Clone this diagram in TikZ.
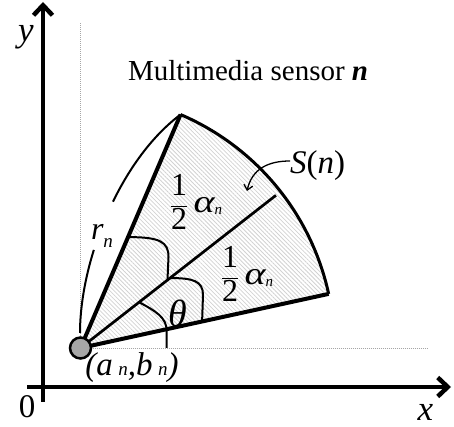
\documentclass[tikz,border=0pt]{standalone}
\usepackage{fontspec}
\setmainfont{Liberation Serif}
\usetikzlibrary{arrows.meta,patterns.meta,calc}
\newcommand{\fsz}[1]{\fontsize{#1}{#1}\selectfont}
\newcommand{\widealpha}{\scalebox{1.25}[1]{\itshape α}}
\begin{document}
\begin{tikzpicture}[x=1pt,y=1pt,
  axis/.style={line width=4.5pt,-{Straight Barb[length=10pt,width=19pt]}},
  sectoredge/.style={line width=4pt},
  midline/.style={line width=2.7pt},
  outerarc/.style={line width=3pt},
  anglearc/.style={line width=2pt},
  guide/.style={line width=0.9pt,gray!70,dash pattern=on 1pt off 1pt},
  lbl/.style={inner sep=0pt,outer sep=0pt},
  sensor/.style={circle,draw=black,fill=gray!70,line width=2.5pt,minimum size=21pt,inner sep=0pt}
]
\useasboundingbox (0,0) rectangle (454,427);

% key points
\coordinate (S) at (80.5,79);
\coordinate (T) at ($(S)+(66.8:254)$);
\coordinate (B) at ($(S)+(12.3:254)$);
\coordinate (M) at ($(S)+(38:248)$);
\coordinate (vtop) at (80.5,404);
\coordinate (hend) at (428,79);
\coordinate (xs) at (27,40);
\coordinate (xe) at (451,40);
\coordinate (ys) at (43,25);
\coordinate (ye) at (43,425);

% hatched sector
\fill[pattern={Lines[angle=-45,distance=3pt,line width=0.8pt]},pattern color=gray!35]
  (S) -- (B) arc[start angle=12.3,end angle=66.8,radius=254] -- cycle;

% dotted guides
\draw[guide] (S) -- (vtop);
\draw[guide] (S) -- (hend);

% axes
\draw[axis] (xs) -- (xe);
\draw[axis] (ys) -- (ye);

% sector lines
\draw[outerarc] (B) arc[start angle=12.3,end angle=66.8,radius=254];
\draw[sectoredge] (S) -- (T);
\draw[sectoredge] (S) -- (B);
\draw[midline] (S) -- (M);

% angle marks
\draw[anglearc] ($(S)!0.3!(M)$) .. controls (155,116) and (166.7,110) .. (166.7,96) -- (166.7,79);
\draw[anglearc] ($(S)!0.458!(M)$) .. controls (193,149) and (203,146) .. (203,132) -- ($(S)!0.49!(B)$);
\draw[anglearc] ($(S)!0.475!(T)$) .. controls (160,190) and (168.5,185) .. (168.5,170) -- ($(S)!0.445!(M)$);

% radius mark r_n (two pieces around the label)
\draw[anglearc] (80,94) .. controls (80,119.5) and (84.9,148.4) .. (93.85,177.1);
\draw[anglearc] (112.97,225.3) .. controls (130.05,260.4) and (153,291.75) .. (T);

% sensor
\node[sensor] (s) at (S) {};

% labels
\node[lbl,anchor=base west,font=\fsz{29}] (title) at (128,346) {Multimedia sensor \textbf{\textit{n}}};
\node[lbl,font=\fsz{35}\itshape] (ylab) at (26,390) {y};
\node[lbl,font=\fsz{35}\itshape] (xlab) at (425.5,14.5) {x};
\node[lbl,font=\fsz{33}] (zero) at (27,20) {0};
\node[lbl,font=\fsz{38}\itshape] (theta) at (177.5,113.5) {θ};
\node[lbl,font=\fsz{32}\itshape] (rn) at (102,191) {r\raisebox{-8pt}{\fsz{19}n}};
\node[lbl,font=\fsz{33}\itshape] (anbn) at (132,59) {(a\,{\fsz{19}n},b\,{\fsz{19}n})};
\node[lbl,font=\fsz{32}] (halfup) at (196,225)
  {$\displaystyle\frac{\mbox{1}}{\mbox{2}}$\,\widealpha\raisebox{-2pt}{\fsz{15}\itshape n}};
\node[lbl,font=\fsz{32}] (halflow) at (247,153)
  {$\displaystyle\frac{\mbox{1}}{\mbox{2}}$\,\widealpha\raisebox{-2pt}{\fsz{15}\itshape n}};
\node[lbl,font=\fsz{33}] (sn) at (317.5,261) {\textit{S}(\textit{n})};
\draw[line width=1.3pt,-{Straight Barb[length=5pt,width=9pt]}]
  ([yshift=5pt]sn.west) .. controls (268,266) and (252,258) .. (247,236);
\end{tikzpicture}
\end{document}
